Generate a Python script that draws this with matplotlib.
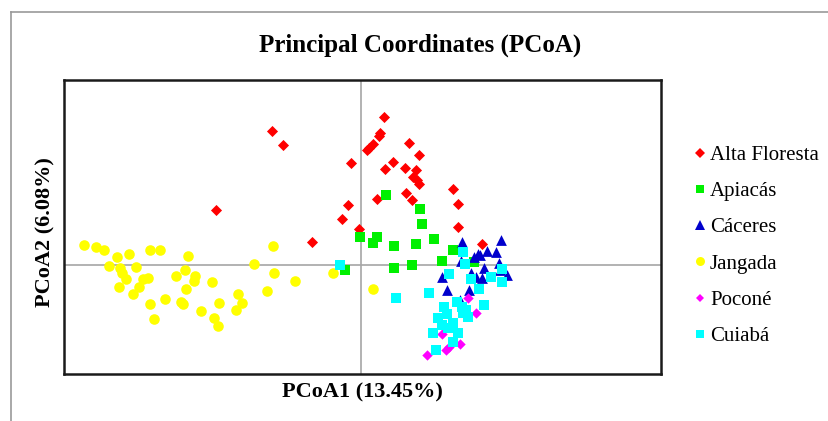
#!/usr/bin/env python3
"""
PCoA scatter plot of populations (Principal Coordinates).
"""

import matplotlib
matplotlib.use('Agg')
import matplotlib.pyplot as plt
from matplotlib.lines import Line2D

plt.rcParams['font.family'] = ['Liberation Serif', 'DejaVu Serif']

# PCoA scores (PCoA1, PCoA2)
alta_x = [-1.45, -0.49, -0.13, -0.19, -0.02, -0.89, -0.78, 0.23, 0.19, 0.18,
          0.12, 0.06, 0.08, 0.48, 0.58, -0.10, 0.32, 0.24, 0.44, 0.55,
          0.52, 0.56, 0.58, 0.92, 0.45, 0.51, 0.16, 0.97, 0.97, 1.21]
alta_y = [0.55, 0.23, 0.60, 0.46, 0.36, 1.34, 1.20, 1.48, 1.32, 1.29,
          1.21, 1.15, 1.17, 1.22, 1.10, 1.02, 1.03, 0.96, 0.97, 0.95,
          0.88, 0.85, 0.81, 0.76, 0.72, 0.65, 0.66, 0.61, 0.38, 0.21]

apiacas_x = [0.25, 0.59, 0.61, 0.73, -0.01, 0.16, 0.12, 0.33, 0.55, 0.92,
             0.81, 0.51, 0.33, -0.16, 1.13]
apiacas_y = [0.70, 0.56, 0.41, 0.26, 0.28, 0.28, 0.22, 0.19, 0.21, 0.15,
             0.04, 0.00, -0.03, -0.05, 0.03]

caceres_x = [1.01, 1.40, 1.26, 1.35, 1.17, 1.19, 1.13, 1.00, 1.23, 1.38,
             1.10, 1.21, 1.15, 1.46, 0.81, 0.86, 1.08, 0.99, 1.39]
caceres_y = [0.23, 0.25, 0.14, 0.13, 0.11, 0.10, 0.08, 0.04, -0.03, 0.02,
             -0.08, -0.13, -0.12, -0.10, -0.12, -0.25, -0.25, -0.35, -0.05]

jangada_x = [-2.77, -2.65, -2.57, -2.44, -2.32, -2.11, -2.01, -1.73, -2.52, -2.41,
             -2.25, -2.39, -2.35, -2.42, -2.18, -2.13, -2.22, -2.28, -1.76, -1.85,
             -1.66, -1.67, -1.75, -1.49, -2.11, -1.96, -1.80, -1.78, -1.60, -1.42,
             -1.47, -1.43, -2.07, -1.23, -1.19, -1.25, -1.07, -0.88, -0.87, -0.94,
             -0.66, -0.28, 0.12]
jangada_y = [0.20, 0.18, 0.15, 0.08, 0.11, 0.15, 0.15, 0.09, -0.01, -0.03,
             -0.02, -0.08, -0.14, -0.22, -0.14, -0.13, -0.22, -0.29, -0.05, -0.11,
             -0.11, -0.16, -0.24, -0.17, -0.39, -0.34, -0.37, -0.39, -0.46, -0.38,
             -0.53, -0.61, -0.54, -0.29, -0.38, -0.45, 0.01, 0.19, -0.08, -0.26,
             -0.16, -0.08, -0.24]

pocone_x = [1.07, 1.15, 0.81, 0.99, 0.85, 0.66, 0.88]
pocone_y = [-0.33, -0.48, -0.69, -0.79, -0.85, -0.90, -0.82]

cuiaba_x = [-0.21, 0.35, 1.02, 1.04, 0.88, 1.10, 1.30, 1.41, 1.41, 0.68,
            1.18, 1.23, 0.96, 1.01, 1.05, 0.83, 0.86, 0.77, 0.81, 0.92,
            0.97, 0.72, 0.92, 0.75, 1.07, 1.02, 0.87]
cuiaba_y = [0.00, -0.33, 0.13, 0.01, -0.09, -0.14, -0.12, -0.04, -0.17, -0.28,
            -0.24, -0.40, -0.37, -0.42, -0.45, -0.42, -0.49, -0.53, -0.60, -0.58,
            -0.68, -0.68, -0.77, -0.85, -0.52, -0.48, -0.63]

groups = [
    ('Alta Floresta', alta_x, alta_y, 'D', '#ff0000', 32),
    ('Apiacás', apiacas_x, apiacas_y, 's', '#00f000', 46),
    ('Cáceres', caceres_x, caceres_y, '^', '#0000cc', 60),
    ('Jangada', jangada_x, jangada_y, 'o', '#ffff00', 58),
    ('Poconé', pocone_x, pocone_y, 'D', '#ff00ff', 28),
    ('Cuiabá', cuiaba_x, cuiaba_y, 's', '#00ffff', 46),
]

fig = plt.figure(figsize=(8.29, 4.21), dpi=100)
ax = fig.add_axes([64 / 829, 1 - 374 / 421, 597 / 829, 294 / 421])

ax.axhline(0, color='#a6a6a6', lw=1.2, zorder=1)
ax.axvline(0, color='#a6a6a6', lw=1.2, zorder=1)

handles = []
for name, xs, ys, marker, color, size in groups:
    ax.scatter(xs, ys, marker=marker, s=size, color=color, linewidths=0, zorder=3)
    handles.append(Line2D([0], [0], marker=marker, linestyle='none', color=color,
                          markersize=(size ** 0.5) * 0.85, markeredgewidth=0))

ax.set_xlim(-2.97, 3.00)
ax.set_ylim(-1.09, 1.85)
ax.set_xticks([])
ax.set_yticks([])
for sp in ax.spines.values():
    sp.set_linewidth(1.8)
    sp.set_color('#1a1a1a')

fig.text(0.507, 1 - 45 / 421, 'Principal Coordinates (PCoA)', ha='center', va='center',
         fontsize=18, fontweight='bold')
fig.text(362 / 829, 1 - 392 / 421, 'PCoA1 (13.45%)', ha='center', va='center',
         fontsize=16, fontweight='bold')
fig.text(45 / 829, 1 - 232 / 421, 'PCoA2 (6.08%)', ha='center', va='center',
         fontsize=16, fontweight='bold', rotation=90)

fig.legend(handles, [g[0] for g in groups], loc='upper left',
           bbox_to_anchor=(683 / 829, 1 - 135 / 421), frameon=False,
           fontsize=15, handlelength=0.6, handletextpad=0.2,
           labelspacing=0.80, borderpad=0)

# outer border (top and left edges only)
fig.add_artist(Line2D([11.5 / 829, 11.5 / 829], [0, 1 - 11.5 / 421],
                      color='#999999', lw=1.2, transform=fig.transFigure))
fig.add_artist(Line2D([11.5 / 829, 1], [1 - 11.5 / 421, 1 - 11.5 / 421],
                      color='#999999', lw=1.2, transform=fig.transFigure))

fig.savefig('out.png', dpi=100)
